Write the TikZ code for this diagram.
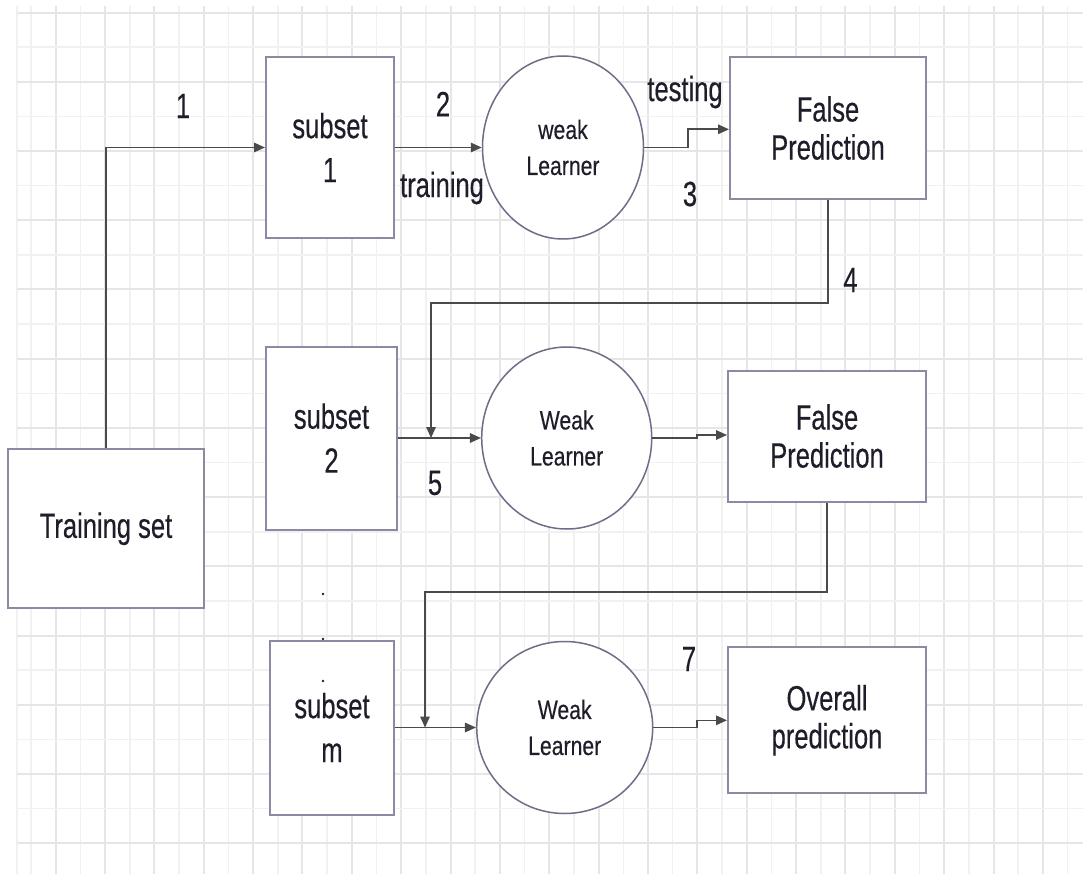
\documentclass[tikz,border=0pt]{standalone}
\usepackage{fontspec}
\usetikzlibrary{arrows.meta,shapes.geometric}
\newfontfamily\labfont[FakeStretch=0.73,FakeBold=0.35]{Liberation Sans}
\newfontfamily\learnfont[FakeStretch=0.80,FakeBold=0.3]{Liberation Sans}
\definecolor{gridmajor}{HTML}{E6E6E8}
\definecolor{gridminor}{HTML}{F1F1F2}
\definecolor{boxline}{HTML}{8A8AA4}
\definecolor{circline}{HTML}{6E6E88}
\definecolor{wire}{HTML}{4A4A4A}
\definecolor{ink}{HTML}{1E1E2A}
\tikzset{
  big/.style={font=\labfont\fontsize{35}{38}\selectfont, text=ink},
  boxnode/.style={draw=boxline, line width=2pt, fill=white, rectangle,
    inner sep=0pt, align=center, big},
  learner/.style={draw=circline, line width=1.5pt, fill=white, ellipse,
    inner sep=0pt, align=center, text=ink,
    font=\learnfont\fontsize{26.5}{36}\selectfont},
  conn/.style={draw=wire, line width=1.6pt,
    -{Triangle[length=11pt,width=9.5pt]}},
  tag/.style={big, inner sep=0pt}
}
\begin{document}
\begin{tikzpicture}[x=1pt,y=-1pt]
  % page and background
  \useasboundingbox (0,0) rectangle (1083,874);
  \fill[white] (0,0) rectangle (1083,874);

  % squared paper
  \foreach \k in {0,...,42} {
    \pgfmathsetmacro{\gx}{31+24.68*\k}
    \ifodd\k
      \draw[gridmajor, line width=2pt] (\gx,6) -- (\gx,874);
    \else
      \draw[gridminor, line width=1.6pt] (\gx,6) -- (\gx,874);
    \fi
  }
  \draw[gridminor, line width=1.6pt] (17,6) -- (17,874);
  \foreach \k in {0,...,25} {
    \pgfmathsetmacro{\gy}{12.7+34.6*\k}
    \ifodd\k
      \draw[gridminor, line width=1.6pt] (17,\gy) -- (1083,\gy);
    \else
      \draw[gridmajor, line width=2pt] (17,\gy) -- (1083,\gy);
    \fi
  }

  % boxes
  \node[boxnode, minimum width=196pt, minimum height=159pt] (train) at (106,528.8) {Training set};
  \node[boxnode, minimum width=128pt, minimum height=181pt] (s1) at (330,147.5) {subset\\[6pt]1};
  \node[boxnode, minimum width=196pt, minimum height=142pt] (fp1) at (828,128) {False\\Prediction};
  \node[boxnode, minimum width=131pt, minimum height=183pt] (s2) at (331.5,438) {subset\\[6pt]2};
  \node[boxnode, minimum width=198pt, minimum height=131pt] (fp2) at (827,436) {False\\Prediction};
  \node[boxnode, minimum width=124pt, minimum height=174pt] (s3) at (332,727.5) {subset\\[6pt]m};
  \node[boxnode, minimum width=198pt, minimum height=146pt] (ov) at (827,720.3) {Overall\\prediction};

  % learners
  \node[learner, minimum width=161pt, minimum height=183pt] (w1) at (563,147.5) {weak\\Learner};
  \node[learner, minimum width=170pt, minimum height=182pt] (w2) at (566.7,438) {Weak\\Learner};
  \node[learner, minimum width=176pt, minimum height=172pt] (w3) at (564.7,727.5) {Weak\\Learner};

  % junctions where the feedback lines meet the training arrows
  \coordinate (j2) at (431,438);
  \coordinate (j3) at (425,727.5);

  % connectors
  \draw[conn] (train.north) |- (s1.west);
  \draw[conn] (s1.east) -- (w1.west);
  \draw[conn] (w1.east) -- (688,147.5) -- (688,129.3) -- (fp1.west |- 0,129.3);
  \draw[conn] (fp1.south) -- (828,303.3) -| (j2);
  \draw[conn] (s2.east) -- (w2.west);
  \draw[conn] (w2.east) -- (696.7,438) -- (696.7,435) -- (fp2.west |- 0,435);
  \draw[conn] (fp2.south) -- (827,591.7) -| (j3);
  \draw[conn] (s3.east) -- (w3.west);
  \draw[conn] (w3.east) -- (697,727.5) -- (697,720.3) -- (ov.west);

  % step labels
  \node[tag] (l1) at (183,106) {1};
  \node[tag] (l2) at (443,104) {2};
  \node[tag] (ltr) at (442,188) {training};
  \node[tag] (lte) at (685,92) {testing};
  \node[tag] (l3) at (690,194) {3};
  \node[tag] (l4) at (850.5,280) {4};
  \node[tag] (l5) at (435,483) {5};
  \node[tag] (l7) at (689,659) {7};

  % ellipsis between subset 2 and subset m
  \fill[ink] (323,594) circle (1.3pt);
  \fill[ink] (323,639) circle (1.3pt);
  \fill[ink] (323,681) circle (1.3pt);
\end{tikzpicture}
\end{document}
